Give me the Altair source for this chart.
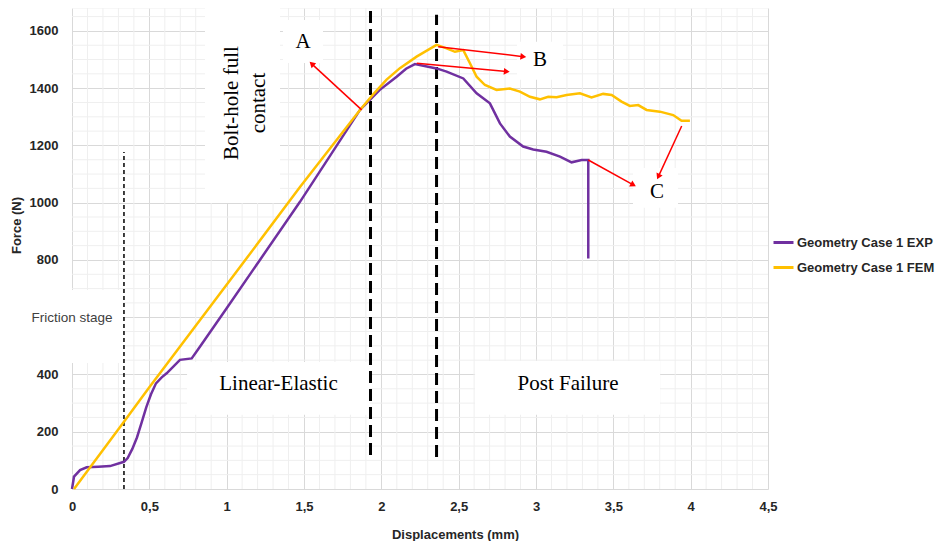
import math
import altair as alt
import pandas as pd

# ---------------- data ----------------
exp_x = [0, 0.013, 0.052, 0.095, 0.17, 0.246, 0.336, 0.36, 0.39, 0.42, 0.45, 0.48, 0.51, 0.543,
         0.58, 0.612, 0.698, 0.774, 0.827, 1.0, 1.215, 1.474, 1.862, 1.99, 2.099, 2.16, 2.217,
         2.357, 2.422, 2.53, 2.616, 2.702, 2.767, 2.831, 2.917, 2.982, 3.068, 3.155, 3.23,
         3.295, 3.338, 3.338]
exp_y = [0, 43, 66, 76, 78, 80, 95, 108, 140, 180, 232, 285, 330, 369,
         390, 404, 451, 456, 497, 631, 800, 1003, 1324, 1394, 1440, 1468, 1484,
         1469, 1458, 1434, 1382, 1347, 1277, 1231, 1196, 1186, 1178, 1161, 1141,
         1149, 1149, 805]

fem_x = [0.013, 0.336, 0.5, 1.107, 1.474, 1.862, 1.95, 2.034, 2.12, 2.228, 2.357, 2.422, 2.476,
         2.53, 2.573, 2.616, 2.67, 2.745, 2.831, 2.896, 2.961, 3.025, 3.079, 3.133, 3.198,
         3.284, 3.359, 3.434, 3.489, 3.553, 3.607, 3.661, 3.715, 3.801, 3.887, 3.941, 3.995]
fem_y = [0, 235, 355, 790, 1055, 1324, 1380, 1430, 1470, 1510, 1551, 1539, 1527,
         1533, 1487, 1440, 1411, 1394, 1399, 1388, 1370, 1361, 1370, 1368, 1376,
         1382, 1368, 1380, 1376, 1353, 1338, 1341, 1324, 1318, 1306, 1286, 1286]

series_names = ["Geometry Case 1 EXP", "Geometry Case 1 FEM"]
series_colors = ["#7030A0", "#FFC000"]

x_major = [0, 0.5, 1, 1.5, 2, 2.5, 3, 3.5, 4, 4.5]
y_major = [0, 200, 400, 600, 800, 1000, 1200, 1400, 1600]
x_minor = [0.1, 0.2, 0.3, 0.4, 0.6, 0.7, 0.8, 0.9, 1.1, 1.2, 1.3, 1.4, 1.6, 1.7, 1.8, 1.9,
           2.1, 2.2, 2.3, 2.4, 2.6, 2.7, 2.8, 2.9, 3.1, 3.2, 3.3, 3.4, 3.6, 3.7, 3.8, 3.9,
           4.1, 4.2, 4.3, 4.4]
y_minor = [50, 100, 150, 250, 300, 350, 450, 500, 550, 650, 700, 750, 850, 900, 950,
           1050, 1100, 1150, 1250, 1300, 1350, 1450, 1500, 1550, 1650, 1680]

# annotation boxes (white backgrounds) in data units
box_x = [-0.465, 0.86, 1.364, 2.877, 3.627, 0.744, 2.606]
box_x2 = [0.33, 1.345, 1.623, 3.175, 3.918, 1.927, 3.802]
box_y = [440, 999, 1488, 1429, 982, 259, 259]
box_y2 = [695, 1710, 1638, 1562, 1121, 444, 447]

# dashed stage separators
thin_x = [0.336]
thin_y = [0]
thin_y2 = [1177]
thick_x = [1.93, 2.357]
thick_y = [119, 112]
thick_y2 = [1700, 1656]

# red arrows (start -> end)
arr_x = [1.873, 2.368, 2.229, 3.338, 3.942]
arr_y = [1324, 1545, 1487, 1149, 1268]
arr_x2 = [1.55, 2.918, 2.811, 3.629, 3.791]
arr_y2 = [1485, 1510, 1458, 1062, 1091]

# serif labels
lab_text = ["A", "B", "C", "Linear-Elastic", "Post Failure"]
lab_x = [1.494, 3.026, 3.782, 1.335, 3.207]
lab_y = [1560, 1497, 1036, 365, 365]
rot_text = ["Bolt-hole full", "contact"]
rot_x = [1.034, 1.209]
rot_y = [1348, 1348]
fric_text = ["Friction stage"]
fric_x = [0.0]
fric_y = [597]

# ---------------- frames ----------------
W, H = 696, 481
XMAX, YMAX = 4.5, 1680
kx, ky = W / XMAX, H / YMAX

curves = pd.DataFrame({
    "x": exp_x + fem_x,
    "y": exp_y + fem_y,
    "series": [series_names[0]] * len(exp_x) + [series_names[1]] * len(fem_x),
    "order": list(range(len(exp_x))) + list(range(len(fem_x))),
})
boxes = pd.DataFrame({"x": box_x, "x2": box_x2, "y": box_y, "y2": box_y2})
thin = pd.DataFrame({"x": thin_x, "y": thin_y, "y2": thin_y2})
thick = pd.DataFrame({"x": thick_x, "y": thick_y, "y2": thick_y2})
angles = []
for a, b, c, d in zip(arr_x, arr_y, arr_x2, arr_y2):
    dx = (c - a) * kx
    dy = -(d - b) * ky
    angles.append(math.degrees(math.atan2(dx, -dy)) % 360)
arrows = pd.DataFrame({"x": arr_x, "y": arr_y, "x2": arr_x2, "y2": arr_y2, "angle": angles})
heads = pd.DataFrame({"x": arr_x2, "y": arr_y2, "angle": angles})
labels = pd.DataFrame({"text": lab_text, "x": lab_x, "y": lab_y})
rot = pd.DataFrame({"text": rot_text, "x": rot_x, "y": rot_y})
fric = pd.DataFrame({"text": fric_text, "x": fric_x, "y": fric_y})
xminor = pd.DataFrame({"x": x_minor})
yminor = pd.DataFrame({"y": y_minor})

# ---------------- scales / axes ----------------
xs = alt.Scale(domain=[0, XMAX], nice=False, zero=False)
ys = alt.Scale(domain=[0, YMAX], nice=False, zero=False)
SANS = "Liberation Sans"
SERIF = "Liberation Serif"

xaxis = alt.Axis(values=x_major, format="~g", labelExpr="replace(datum.label, '.', ',')",
                 title="Displacements (mm)", grid=True, gridColor="#d9d9d9", domain=False,
                 ticks=False, labelFont=SANS, labelFontSize=13, labelFontWeight="bold",
                 labelColor="#262626", labelPadding=11, labelFlush=False, labelOverlap=False,
                 titleFont=SANS, titleFontSize=13, titleFontWeight="bold", titleColor="#262626",
                 titleX=383, titleY=45, titleBaseline="middle")
yaxis = alt.Axis(values=y_major, format="d", labelExpr="datum.value == 600 ? '' : datum.label",
                 title="Force (N)", grid=True, gridColor="#d9d9d9", domain=False,
                 ticks=False, labelFont=SANS, labelFontSize=13, labelFontWeight="bold",
                 labelColor="#262626", labelPadding=14, labelFlush=False, labelOverlap=False,
                 titleFont=SANS, titleFontSize=13, titleFontWeight="bold", titleColor="#262626",
                 titleX=-56, titleY=217, titleAngle=270, titleAlign="center",
                 titleBaseline="middle")


def X(f="x"):
    return alt.X(f"{f}:Q", scale=xs, axis=xaxis)


def Y(f="y"):
    return alt.Y(f"{f}:Q", scale=ys, axis=yaxis)


vgrid = alt.Chart(xminor).mark_rule(color="#efefef", strokeWidth=1).encode(x=X())
hgrid = alt.Chart(yminor).mark_rule(color="#efefef", strokeWidth=1).encode(y=Y())

box_layer = alt.Chart(boxes).mark_rect(color="white").encode(
    x=X(), x2="x2:Q", y=Y(), y2="y2:Q")

thin_layer = alt.Chart(thin).mark_rule(color="black", strokeWidth=1.5, strokeDash=[4, 3]).encode(
    x=X(), y=Y(), y2="y2:Q")
thick_layer = alt.Chart(thick).mark_rule(color="black", strokeWidth=3, strokeDash=[12, 6]).encode(
    x=X(), y=Y(), y2="y2:Q")

lines = alt.Chart(curves).mark_line(strokeWidth=2.5).encode(
    x=X(), y=Y(), order="order:Q",
    color=alt.Color("series:N", scale=alt.Scale(domain=series_names, range=series_colors),
                    legend=alt.Legend(orient="none", legendX=700, legendY=223, title=None,
                                      symbolType="stroke", symbolSize=400,
                                      symbolStrokeWidth=3, labelFont=SANS, labelFontSize=13,
                                      labelFontWeight="bold", labelColor="#262626",
                                      labelOffset=2, rowPadding=6, labelLimit=300)))

arrow_lines = alt.Chart(arrows).mark_rule(color="#ff0000", strokeWidth=1.5).encode(
    x=X(), y=Y(), x2="x2:Q", y2="y2:Q")
arrow_heads = alt.Chart(heads).mark_point(shape="triangle-up", filled=True, color="#ff0000",
                                          size=45, opacity=1).encode(
    x=X(), y=Y(), angle=alt.Angle("angle:Q", scale=None))

text_layer = alt.Chart(labels).mark_text(font=SERIF, fontSize=21, color="black",
                                         align="center", baseline="middle").encode(
    x=X(), y=Y(), text="text:N")
rot_layer = alt.Chart(rot).mark_text(font=SERIF, fontSize=21, color="black", angle=270,
                                     align="center", baseline="middle").encode(
    x=X(), y=Y(), text="text:N")
fric_layer = alt.Chart(fric).mark_text(font=SANS, fontSize=13.5, color="#404040",
                                       align="center", baseline="middle").encode(
    x=X(), y=Y(), text="text:N")

chart = alt.layer(vgrid, hgrid, box_layer, thin_layer, thick_layer, lines, arrow_lines,
                  arrow_heads, text_layer, rot_layer, fric_layer).properties(
    width=W, height=H,
    autosize=alt.AutoSizeParams(type="none"),
    padding={"left": 64, "top": 0, "right": 168, "bottom": 52},
    background="white",
).configure_view(strokeWidth=0)

chart.save("out.html", embed_options={"renderer": "svg", "actions": False})
